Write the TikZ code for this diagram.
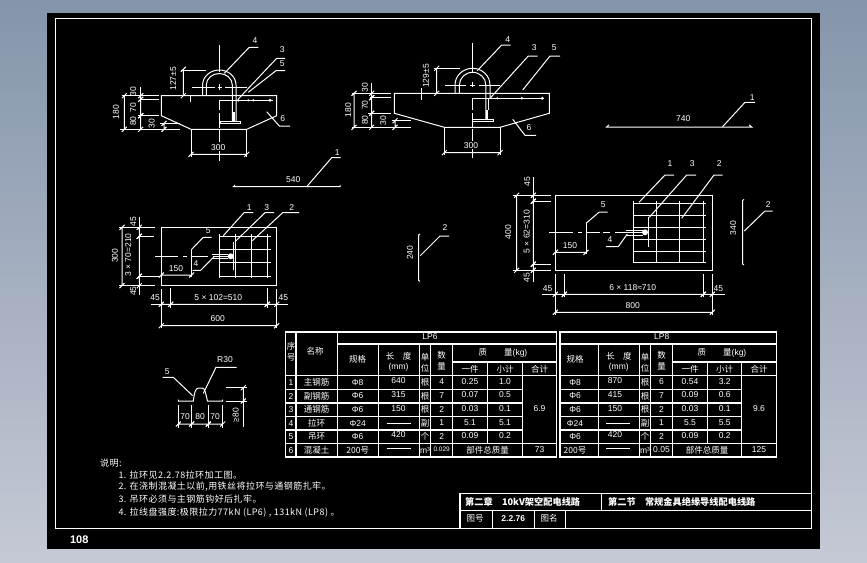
\documentclass[tikz,border=0pt]{standalone}
\usepackage{fontspec}
\setmainfont{Liberation Sans}
\newfontfamily\cjk{Noto Sans CJK SC}
\newcommand{\sz}{\fontsize{8.5}{9}\selectfont}

\tikzstyle{txt} = [rectangle, text=white, inner sep=0pt, font=\sz]
\tikzstyle{vtxt} = [txt, rotate=90]
\tikzstyle{han} = [txt, font=\sz\cjk]
\tikzstyle{note} = [txt, anchor=west, font=\fontsize{9}{10}\selectfont\cjk\addfontfeature{LetterSpace=5}]
\tikzstyle{line} = [draw=white, line width=1pt]
\tikzstyle{thick_bar} = [draw=white, line width=1.4pt]
\tikzstyle{tab} = [draw=white, line width=1.1pt]

% dimension lines with oblique ticks: x1 x2 y, and x y1 y2
\newcommand{\dimh}[3]{\draw [line] (#1,#3) -- (#2,#3) ({#1-2.5},{#3+2.5}) -- ({#1+2.5},{#3-2.5}) ({#2-2.5},{#3+2.5}) -- ({#2+2.5},{#3-2.5});}
\newcommand{\dimv}[3]{\draw [line] (#1,#2) -- (#1,#3) ({#1-2.5},{#2+2.5}) -- ({#1+2.5},{#2-2.5}) ({#1-2.5},{#3+2.5}) -- ({#1+2.5},{#3-2.5});}

\begin{document}
\begin{tikzpicture}[x=1pt,y=-1pt,node distance=13.55pt,>=stealth]
  \useasboundingbox (0,0) rectangle (867,562);
  \shade [top color={rgb,255:red,132;green,149;blue,171}, bottom color={rgb,255:red,197;green,201;blue,213}] (0,0) rectangle (867,562);
  \fill [black] (47,13) rectangle (820,549);
  \draw [tab] (55.3,18.3) rectangle (811.3,528.3);
  \node [txt, font=\fontsize{11}{12}\selectfont\bfseries\rmfamily] (page) at (79.3,539.5) {108};

  % section LP6
  \draw [line] (161.3,95.7) -- (276.7,95.7) -- (276.7,115.7) -- (246.7,129.3) -- (191,129.3) -- (161.3,115.7) -- cycle;
  \draw [line] (191,129.3) -- (191,156.7);
  \draw [line] (246.7,129.3) -- (246.7,156.7);
  \draw [line] (219.3,45) -- (219.3,72) (219.3,84) -- (219.3,90) (219.3,100) -- (219.3,110) (219.3,113) -- (219.3,128) (219.3,130) -- (219.3,142) (219.3,151) -- (219.3,160.7);
  \draw [line] (202.6,95.7) -- (202.6,85) arc[start angle=180,end angle=360,x radius=16.7,y radius=15] -- (236,121.7);
  \draw [line] (206.3,95.7) -- (206.3,85) arc[start angle=180,end angle=360,x radius=13,y radius=11.5] -- (232.3,121.7);
  \draw [line] (191.7,87.3) -- (215,87.3) (217.7,87.3) -- (221.7,87.3) (225,87.3) -- (246.7,87.3);
  \draw [line] (220,121) rectangle (240.7,123.7);
  \fill [white] (233.3,111.7) rectangle (235.3,121);
  \draw [thick_bar] (219.3,103) -- (219.3,100.3) -- (272.7,100.3);
  \fill [white] (238.3,100.3) circle (1.4) (248.3,100.3) circle (1.2) (253.3,100.3) circle (1.2) (270,100.3) circle (1.6);
  \draw [line] (190.7,95.7) -- (190.7,101.7);
  \draw [line] (224.3,73.3) -- (249.3,47.3) -- (258.3,47.3);
  \draw [line] (238.3,99) -- (276.7,58.3) -- (285,58.3);
  \draw [line] (248.3,92.3) -- (276,70.7) -- (285,70.7);
  \draw [line] (266.7,111.7) -- (279.3,126) -- (290,126);
  \node [txt] (s6_4) at (255,41) {4};
  \node [txt] (s6_3) at (282.3,50) {3};
  \node [txt] (s6_5) at (282.3,64) {5};
  \node [txt] (s6_6) at (282.7,119) {6};
  \dimh{191}{246.7}{154.3}
  \node [txt] (s6_300) at (218.3,147.7) {300};
  \dimv{124.3}{95.7}{129.3}
  \dimv{140.7}{95.7}{99.3}
  \dimv{140.7}{99.3}{115.7}
  \dimv{140.7}{115.7}{129.3}
  \draw [line] (140.7,87.3) -- (140.7,95.7);
  \draw [line] (121.7,95.7) -- (159,95.7) (140,99.3) -- (159,99.3) (138,115.7) -- (159,115.7) (120,129.3) -- (180,129.3) (160,123.3) -- (180,123.3);
  \dimv{164}{123.3}{129.3}
  \dimv{183.3}{69.3}{95.7}
  \draw [line] (180.7,70) -- (205.7,70);
  \node [vtxt] (s6_180) at (116,112) {180};
  \node [vtxt] (s6_30a) at (133.3,91.7) {30};
  \node [vtxt] (s6_70) at (133.3,107.3) {70};
  \node [vtxt] (s6_80) at (133.3,121) {80};
  \node [vtxt] (s6_30b) at (151.7,123.3) {30};
  \node [vtxt] (s6_127) at (173.3,78.7) {127±5};

  % section LP8
  \draw [line] (394.3,93.3) -- (549.3,93.3) -- (549.3,113.3) -- (500,127.3) -- (444.3,127.3) -- (394.3,113.3) -- cycle;
  \draw [line] (444.3,127.3) -- (444.3,155);
  \draw [line] (500,127.3) -- (500,155);
  \draw [line] (472.7,43.3) -- (472.7,72) (472.7,82) -- (472.7,87) (472.7,98) -- (472.7,110) (472.7,113) -- (472.7,127) (472.7,129) -- (472.7,141) (472.7,149) -- (472.7,158.3);
  \draw [line] (455,93.3) -- (455,85) arc[start angle=180,end angle=360,x radius=17.5,y radius=16.7] -- (490,98.3);
  \draw [line] (459.4,93.3) -- (459.4,85) arc[start angle=180,end angle=360,x radius=13.2,y radius=12.7] -- (485.8,120);
  \draw [line] (488.3,98.3) -- (488.3,110);
  \draw [line] (445,85) -- (466,85) (470,85) -- (475,85) (479.3,85) -- (500,85);
  \draw [line] (472.7,119) rectangle (493.3,121.3);
  \fill [white] (486,110) rectangle (488.3,119);
  \draw [thick_bar] (472.7,101) -- (472.7,98.3) -- (544,98.3);
  \fill [white] (497.3,98.3) circle (1.2) (521.7,98.3) circle (1.4) (542.3,98.3) circle (1.6);
  \draw [line] (421.7,88.3) -- (421.7,100);
  \draw [line] (477.3,70.7) -- (501.7,45) -- (510.7,45);
  \draw [line] (490,98.3) -- (528.3,56) -- (537.7,56);
  \draw [line] (522.7,90) -- (550,56) -- (560,56);
  \draw [line] (512.7,119.3) -- (525,135.3) -- (536,135.3);
  \node [txt] (s8_4) at (507.7,39.3) {4};
  \node [txt] (s8_3) at (534.3,47.7) {3};
  \node [txt] (s8_5) at (554.3,47.7) {5};
  \node [txt] (s8_6) at (529,127.7) {6};
  \dimh{444.3}{500}{152.7}
  \node [txt] (s8_300) at (471,146) {300};
  \dimv{354}{93.3}{127.3}
  \dimv{371.7}{93.3}{97.7}
  \dimv{371.7}{97.7}{113.3}
  \dimv{371.7}{113.3}{127.3}
  \draw [line] (371.7,83.3) -- (371.7,93.3);
  \draw [line] (351.7,93.3) -- (390.7,93.3) (370,97.7) -- (390.7,97.7) (368,113.3) -- (390.7,113.3) (351.7,127.3) -- (410.7,127.3) (391.7,120.7) -- (410.7,120.7);
  \dimv{395}{120.7}{127.3}
  \dimv{436.7}{68.3}{93.3}
  \draw [line] (434.3,68.3) -- (460,68.3);
  \node [vtxt] (s8_180) at (348.3,110) {180};
  \node [vtxt] (s8_30a) at (365,87.3) {30};
  \node [vtxt] (s8_70) at (365,105) {70};
  \node [vtxt] (s8_80) at (365,120) {80};
  \node [vtxt] (s8_30b) at (383.3,120.7) {30};
  \node [vtxt] (s8_129) at (426,76) {129±5};

  % single bars
  \draw [line] (235,185) -- (233.3,186.7) -- (340,186.7) -- (340,185);
  \draw [line] (306.7,186.7) -- (331.7,157.7) -- (340.7,157.7);
  \node [txt] (b_540) at (293.3,180) {540};
  \node [txt] (b1_1) at (337.3,152.3) {1};
  \draw [line] (609,124.8) -- (606.7,127) -- (751.7,127) -- (749,124.8);
  \draw [line] (722.3,127) -- (745,102.3) -- (755,102.3);
  \node [txt] (b_740) at (683.3,119) {740};
  \node [txt] (b2_1) at (752.3,97.3) {1};
  \draw [line] (420,234) -- (418.7,235) -- (418.7,280.4) -- (420,281.4);
  \draw [line] (420.3,255.7) -- (440,236) -- (449,236);
  \node [vtxt] (b_240) at (410,252.7) {240};
  \node [txt] (b3_2) at (445,227.7) {2};
  \draw [line] (744,199.3) -- (742.7,200.5) -- (742.7,264) -- (744,265);
  \draw [line] (744.3,231) -- (765,211) -- (772.7,211);
  \node [vtxt] (b_340) at (733.3,228.3) {340};
  \node [txt] (b4_2) at (768.3,205) {2};

  % plan LP6
  \draw [line] (161.3,227.3) rectangle (276.7,285.7);
  \draw [line] (219.7,234) -- (219.7,277.7) (235.7,234) -- (235.7,277.7) (251.3,234) -- (251.3,277.7) (267.3,234) -- (267.3,277.7);
  \draw [line] (219.7,236.3) -- (270.7,236.3) (219.7,249.7) -- (270.7,249.7) (219.7,262.7) -- (270.7,262.7) (219.7,276.3) -- (270.7,276.3);
  \draw [line] (233.7,241.7) -- (233.7,270);
  \draw [line] (155,256.3) -- (178.3,256.3) (183.3,256.3) -- (187.3,256.3) (191.7,256.3) -- (208,256.3) (213,256.3) -- (228,256.3);
  \draw [line] (211.7,254.3) -- (228,254.3) (211.7,258.7) -- (228,258.7);
  \fill [white] (230.7,256.3) circle (3);
  \draw [line] (191.7,249.3) -- (191.7,276.7);
  \draw [line] (191.7,249.3) -- (203.3,237.3) -- (211.7,237.3);
  \draw [line] (192.7,270.3) -- (200.7,270.3) -- (214,256.7);
  \draw [line] (223.3,235.7) -- (244,212.7) -- (253.3,212.7);
  \draw [line] (235,241.7) -- (265,212.7) -- (274,212.7);
  \draw [line] (252.3,240.7) -- (282.7,212.7) -- (299,212.7);
  \node [txt] (p6_5) at (208.3,231) {5};
  \node [txt] (p6_4) at (196,264) {4};
  \node [txt] (p6_1) at (249.3,208) {1};
  \node [txt] (p6_3) at (266.7,208) {3};
  \node [txt] (p6_2) at (291.7,208) {2};
  \dimh{161.3}{191.7}{275}
  \node [txt] (p6_150) at (176,268.3) {150};
  \dimv{122}{227.3}{285.7}
  \dimv{139.3}{227.3}{236.3}
  \dimv{139.3}{236.3}{276.3}
  \dimv{139.3}{276.3}{285.7}
  \draw [line] (139.3,216.7) -- (139.3,227.3) (139.3,285.7) -- (139.3,295);
  \draw [line] (119.3,227.3) -- (155,227.3) (138,236.3) -- (154,236.3) (138,276.3) -- (160,276.3) (119.3,285.7) -- (155,285.7);
  \node [vtxt] (p6_300) at (115,255.7) {300};
  \node [vtxt] (p6_45a) at (133.3,221.7) {45};
  \node [vtxt] (p6_210) at (128.3,255) {3 × 70=210};
  \node [vtxt] (p6_45b) at (133.3,291) {45};
  \dimh{161.3}{170.7}{304.3}
  \dimh{170.7}{267.3}{304.3}
  \dimh{267.3}{276.7}{304.3}
  \dimh{161.3}{276.7}{325.7}
  \draw [line] (151,304.3) -- (161.3,304.3) (276.7,304.3) -- (287.7,304.3);
  \draw [line] (161.3,289) -- (161.3,328.3) (170.7,288.3) -- (170.7,308.3) (267.3,288.3) -- (267.3,308.3) (276.7,289) -- (276.7,328.3);
  \node [txt] (p6_600) at (217.7,319) {600};
  \node [txt] (p6_510) at (218.3,297.7) {5 × 102=510};
  \node [txt] (p6_45c) at (155,297.7) {45};
  \node [txt] (p6_45d) at (283.3,297.7) {45};

  % plan LP8
  \draw [line] (555.3,195.3) rectangle (712.3,270.3);
  \draw [line] (633.7,200.7) -- (633.7,263.3) (656.7,200.7) -- (656.7,263.3) (679.7,200.7) -- (679.7,263.3) (703.3,200.7) -- (703.3,263.3);
  \draw [line] (633.7,203) -- (705.7,203) (633.7,215.3) -- (705.7,215.3) (633.7,227.3) -- (705.7,227.3) (633.7,239.3) -- (705.7,239.3) (633.7,251.3) -- (705.7,251.3) (633.7,262.7) -- (705.7,262.7);
  \draw [line] (648.3,216.7) -- (648.3,246.7);
  \draw [line] (549.3,232.3) -- (573.3,232.3) (578.3,232.3) -- (581.7,232.3) (586.7,232.3) -- (600,232.3) (603.3,232.3) -- (610,232.3) (615,232.3) -- (643,232.3);
  \draw [line] (626,230) -- (643.3,230) (626,235) -- (643.3,235);
  \fill [white] (645,232.3) circle (3);
  \draw [line] (586,223.3) -- (586,254);
  \draw [line] (586,223.3) -- (599.3,212) -- (607.7,212);
  \draw [line] (606,246.7) -- (618.3,246.7) -- (627.3,234);
  \draw [line] (639,202.3) -- (665,175) -- (674,175);
  \draw [line] (649.3,217.3) -- (686.7,175) -- (696,175);
  \draw [line] (681.7,218.3) -- (714,175) -- (722.7,175);
  \node [txt] (p8_5) at (603.3,205) {5};
  \node [txt] (p8_4) at (610,239.3) {4};
  \node [txt] (p8_1) at (670,164) {1};
  \node [txt] (p8_3) at (692.3,164) {3};
  \node [txt] (p8_2) at (719.3,164) {2};
  \dimh{555.3}{586}{252.3}
  \node [txt] (p8_150) at (570,246) {150};
  \dimv{516.7}{195.3}{270.3}
  \dimv{533.3}{195.3}{201.3}
  \dimv{533.3}{201.3}{264.3}
  \dimv{533.3}{264.3}{270.3}
  \draw [line] (533.3,176.7) -- (533.3,195.3) (533.3,270.3) -- (533.3,281.7);
  \draw [line] (512.7,195.3) -- (551,195.3) (531.7,201.3) -- (551,201.3) (531.7,264.3) -- (551,264.3) (512.7,270.3) -- (551,270.3);
  \node [vtxt] (p8_400) at (508.3,232.3) {400};
  \node [vtxt] (p8_45a) at (527.3,181.7) {45};
  \node [vtxt] (p8_310) at (526.7,231.7) {5 × 62=310};
  \node [vtxt] (p8_45b) at (526.7,277.3) {45};
  \dimh{555.3}{564.3}{294.3}
  \dimh{564.3}{703.3}{294.3}
  \dimh{703.3}{712.3}{294.3}
  \dimh{555.3}{712.3}{312.3}
  \draw [line] (542.3,294.3) -- (555.3,294.3) (712.3,294.3) -- (725,294.3);
  \draw [line] (555.3,274.3) -- (555.3,315) (564.3,274.3) -- (564.3,297) (703.3,274.3) -- (703.3,297) (712.3,274.3) -- (712.3,315);
  \node [txt] (p8_800) at (632.7,305.7) {800};
  \node [txt] (p8_710) at (632.7,287.7) {6 × 118≈710};
  \node [txt] (p8_45c) at (547.7,288.3) {45};
  \node [txt] (p8_45d) at (718.3,288.3) {45};

  % hanger
  \draw [line] (178.3,399.5) -- (178.3,401) -- (193.3,401) .. controls (194.5,393) and (195,388) .. (199,388) -- (202,388) .. controls (205,388) and (205.5,393) .. (207.5,401) -- (222.7,401) -- (222.7,399.5);
  \draw [line] (162.7,377.3) -- (173.3,377.3) -- (192.7,395.7);
  \draw [line] (203.3,393.3) -- (216,367.3) -- (236.7,367.3);
  \node [txt] (h_5) at (167.3,372) {5};
  \node [txt] (h_r) at (225,359.3) {R30};
  \draw [line] (178.3,405) -- (178.3,428.3) (191.7,405) -- (191.7,428.3) (208.3,405) -- (208.3,428.3) (222.7,405) -- (222.7,428.3);
  \dimh{178.3}{191.7}{424}
  \dimh{191.7}{208.3}{424}
  \dimh{208.3}{222.7}{424}
  \node [txt] (h_70a) at (185,416.7) {70};
  \node [txt] (h_80) at (200,416.7) {80};
  \node [txt] (h_70b) at (215,416.7) {70};
  \draw [line] (226,387.7) -- (246.7,387.7) (226,401) -- (246.7,401);
  \dimv{243.3}{387.7}{401}
  \draw [line] (243.3,401) -- (243.3,426.7);
  \node [vtxt] (h_ge) at (235.7,415) {≥80};

  % notes
  \node [note] (n_0) at (100,463.3) {说明:};
  \node [note] (n_1) at (118.3,475) {1. 拉环见2.2.78拉环加工图。};
  \node [note] (n_2) at (118.3,486.7) {2. 在浇制混凝土以前,用铁丝将拉环与通钢筋扎牢。};
  \node [note] (n_3) at (118.3,499.3) {3. 吊环必须与主钢筋钩好后扎牢。};
  \node [note] (n_4) at (118.3,512.3) {4. 拉线盘强度:极限拉力77kN (LP6) , 131kN (LP8) 。};

  % table
  \draw [tab] (285.7,332) rectangle (556.7,457);
  \draw [tab] (560,332) rectangle (776.7,457);
  \draw [tab] (296,332) -- (296,457);
  \draw [tab] (337.3,332) -- (337.3,457);
  \draw [tab] (378.3,344) -- (378.3,457) (419.3,344) -- (419.3,457) (430.7,344) -- (430.7,457) (452.7,344) -- (452.7,457);
  \draw [tab] (487.7,362) -- (487.7,443.3) (522.3,362) -- (522.3,457);
  \draw [tab] (598.3,344) -- (598.3,457) (639.3,344) -- (639.3,457) (650.7,344) -- (650.7,457) (672.3,344) -- (672.3,457);
  \draw [tab] (707.7,362) -- (707.7,443.3) (741.7,362) -- (741.7,457);
  \draw [tab] (337.3,344) -- (556.7,344) (452.7,362) -- (556.7,362);
  \draw [tab] (560,344) -- (776.7,344) (672.3,362) -- (776.7,362);
  \draw [tab] (285.7,375.7) -- (556.7,375.7) (560,375.7) -- (776.7,375.7);
  \draw [tab] (285.7,389.3) -- (522.3,389.3) (285.7,403) -- (522.3,403) (285.7,416.3) -- (522.3,416.3) (285.7,430) -- (522.3,430);
  \draw [tab] (560,389.3) -- (741.7,389.3) (560,403) -- (741.7,403) (560,416.3) -- (741.7,416.3) (560,430) -- (741.7,430);
  \draw [tab] (285.7,443.3) -- (556.7,443.3) (560,443.3) -- (776.7,443.3);
  \draw [line] (386.7,423) -- (410.7,423) (386.7,448) -- (410.7,448);
  \draw [line] (606,423) -- (630,423) (606,448) -- (630,448);

  \node [txt] (h6) at (430,336.7) {LP6};
  \node [han] (h_xu) at (291,346.5) {序};
  \node [han] (h_hao) at (291,357) {号};
  \node [han] (h_name) at (315,351.3) {名称};
  \node [han] (h6_spec) at (357.7,359) {规格};
  \node [han] (h6_len) at (398.5,356.5) {长\quad 度};
  \node [txt] (h6_mm) at (398.5,367) {(mm)};
  \node [han] (h6_dan) at (425,357.5) {单};
  \node [han] (h6_wei) at (425,368) {位};
  \node [han] (h6_shu) at (441.7,355) {数};
  \node [han] (h6_liang) at (441.7,366.5) {量};
  \node [han] (h6_mass) at (503,353) {质\qquad 量{\rmfamily (kg)}};
  \node [han] (h6_one) at (470,369.7) {一件};
  \node [han] (h6_sub) at (505,369.7) {小计};
  \node [han] (h6_tot) at (539.5,369.7) {合计};

  \node [txt] (no1) at (291,382.5) {1};
  \node [txt, below of=no1] (no2) {2};
  \node [txt, below of=no2] (no3) {3};
  \node [txt, below of=no3] (no4) {4};
  \node [txt, below of=no4] (no5) {5};
  \node [txt, below of=no5] (no6) {6};

  \node [han] (nm1) at (316.7,382.5) {主钢筋};
  \node [han, below of=nm1] (nm2) {副钢筋};
  \node [han, below of=nm2] (nm3) {通钢筋};
  \node [han, below of=nm3] (nm4) {拉环};
  \node [han, below of=nm4] (nm5) {吊环};
  \node [han, below of=nm5] (nm6) {混凝土};

  \node [txt] (sa1) at (357.7,382.5) {Φ8};
  \node [txt, below of=sa1] (sa2) {Φ6};
  \node [txt, below of=sa2] (sa3) {Φ6};
  \node [txt, below of=sa3] (sa4) {Φ24};
  \node [txt, below of=sa4] (sa5) {Φ6};
  \node [han, below of=sa5] (sa6) {200号};

  \node [txt] (la1) at (398.5,381) {640};
  \node [txt, below of=la1] (la2) {315};
  \node [txt, below of=la2] (la3) {150};
  \node [txt] (la5) at (398.5,434.5) {420};

  \node [han] (ua1) at (425,382.5) {根};
  \node [han, below of=ua1] (ua2) {根};
  \node [han, below of=ua2] (ua3) {根};
  \node [han, below of=ua3] (ua4) {副};
  \node [han, below of=ua4] (ua5) {个};
  \node [txt, below of=ua5] (ua6) {m³};

  \node [txt] (qa1) at (441.7,382) {4};
  \node [txt, below of=qa1] (qa2) {7};
  \node [txt, below of=qa2] (qa3) {2};
  \node [txt, below of=qa3] (qa4) {1};
  \node [txt, below of=qa4] (qa5) {2};
  \node [txt, font=\fontsize{6.5}{7}\selectfont, below of=qa5] (qa6) {0.029};

  \node [txt] (oa1) at (470,381.5) {0.25};
  \node [txt, below of=oa1] (oa2) {0.07};
  \node [txt, below of=oa2] (oa3) {0.03};
  \node [txt, below of=oa3] (oa4) {5.1};
  \node [txt, below of=oa4] (oa5) {0.09};

  \node [txt] (ta1) at (505,381.5) {1.0};
  \node [txt, below of=ta1] (ta2) {0.5};
  \node [txt, below of=ta2] (ta3) {0.1};
  \node [txt, below of=ta3] (ta4) {5.1};
  \node [txt, below of=ta4] (ta5) {0.2};
  \node [txt] (ga) at (539.5,408.5) {6.9};
  \node [han] (wa) at (487.5,450) {部件总质量};
  \node [txt] (wa_v) at (539.5,449.5) {73};

  \node [txt] (h8) at (661.7,336.7) {LP8};
  \node [han] (h8_spec) at (575,359.7) {规格};
  \node [han] (h8_len) at (618.8,356.5) {长\quad 度};
  \node [txt] (h8_mm) at (618.8,367) {(mm)};
  \node [han] (h8_dan) at (645,357.5) {单};
  \node [han] (h8_wei) at (645,368) {位};
  \node [han] (h8_shu) at (661.5,355) {数};
  \node [han] (h8_liang) at (661.5,366.5) {量};
  \node [han] (h8_mass) at (722,353) {质\qquad 量{\rmfamily (kg)}};
  \node [han] (h8_one) at (690,369.7) {一件};
  \node [han] (h8_sub) at (724.7,369.7) {小计};
  \node [han] (h8_tot) at (759,369.7) {合计};

  \node [txt] (sb1) at (575,382.5) {Φ8};
  \node [txt, below of=sb1] (sb2) {Φ6};
  \node [txt, below of=sb2] (sb3) {Φ6};
  \node [txt, below of=sb3] (sb4) {Φ24};
  \node [txt, below of=sb4] (sb5) {Φ6};
  \node [han, below of=sb5] (sb6) {200号};

  \node [txt] (lb1) at (615,381) {870};
  \node [txt, below of=lb1] (lb2) {415};
  \node [txt, below of=lb2] (lb3) {150};
  \node [txt] (lb5) at (615,434.5) {420};

  \node [han] (ub1) at (645,382.5) {根};
  \node [han, below of=ub1] (ub2) {根};
  \node [han, below of=ub2] (ub3) {根};
  \node [han, below of=ub3] (ub4) {副};
  \node [han, below of=ub4] (ub5) {个};
  \node [txt, below of=ub5] (ub6) {m³};

  \node [txt] (qb1) at (661.5,382) {6};
  \node [txt, below of=qb1] (qb2) {7};
  \node [txt, below of=qb2] (qb3) {2};
  \node [txt, below of=qb3] (qb4) {1};
  \node [txt, below of=qb4] (qb5) {2};
  \node [txt, below of=qb5] (qb6) {0.05};

  \node [txt] (ob1) at (690,381.5) {0.54};
  \node [txt, below of=ob1] (ob2) {0.09};
  \node [txt, below of=ob2] (ob3) {0.03};
  \node [txt, below of=ob3] (ob4) {5.5};
  \node [txt, below of=ob4] (ob5) {0.09};

  \node [txt] (tb1) at (724.7,381.5) {3.2};
  \node [txt, below of=tb1] (tb2) {0.6};
  \node [txt, below of=tb2] (tb3) {0.1};
  \node [txt, below of=tb3] (tb4) {5.5};
  \node [txt, below of=tb4] (tb5) {0.2};
  \node [txt] (gb) at (759,408.5) {9.6};
  \node [han] (wb) at (707,450) {部件总质量};
  \node [txt] (wb_v) at (759,449.5) {125};

  % title block
  \draw [tab] (811.3,493.3) -- (460,493.3) -- (460,528.3);
  \draw [tab] (460,510.2) -- (811.3,510.2);
  \draw [tab] (601.7,493.3) -- (601.7,510.2);
  \draw [tab] (492.7,510.2) -- (492.7,528.3) (534.3,510.2) -- (534.3,528.3) (565.3,510.2) -- (565.3,528.3);
  \node [han, font=\fontsize{9.2}{10}\selectfont\cjk\bfseries, anchor=west] (t_ch) at (465,502) {第二章\quad 10kV架空配电线路};
  \node [han, font=\fontsize{9.2}{10}\selectfont\cjk\bfseries, anchor=west] (t_se) at (608,502) {第二节\quad 常规金具绝缘导线配电线路};
  \node [han] (t_no) at (475,518) {图号};
  \node [txt, font=\sz\bfseries] (t_num) at (513.3,519) {2.2.76};
  \node [han] (t_na) at (549,518) {图名};
\end{tikzpicture}
\end{document}
